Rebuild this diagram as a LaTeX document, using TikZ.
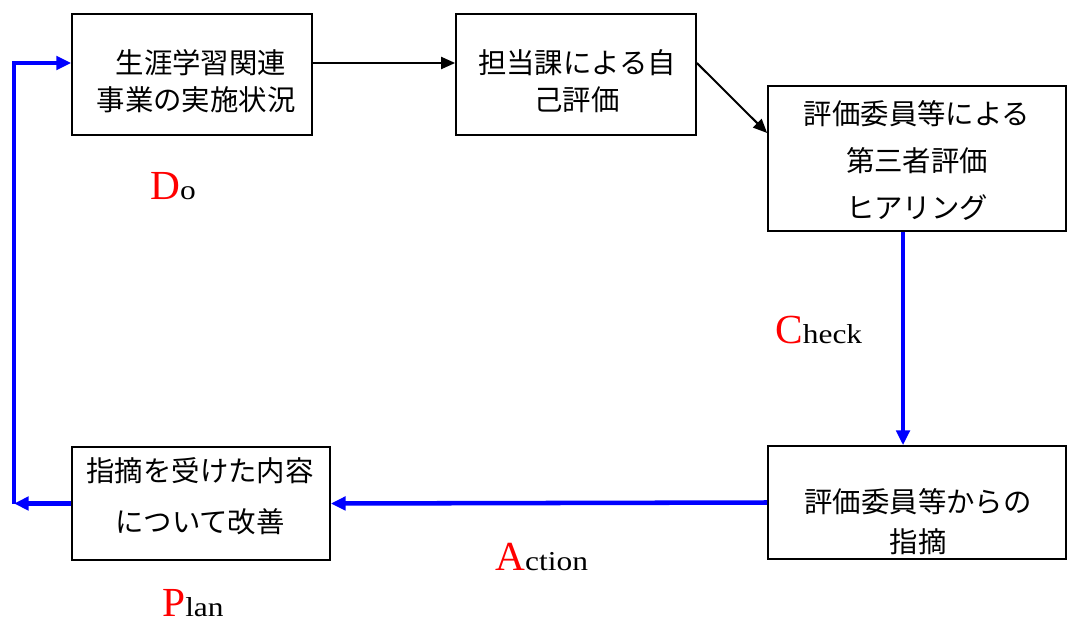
\documentclass[tikz,border=0pt]{standalone}
\usepackage{fontspec}
\setmainfont{Liberation Serif}
\newfontfamily\latw[FakeStretch=1.15]{Liberation Serif}
\newfontfamily\cjk{Noto Sans CJK JP}
\usetikzlibrary{arrows.meta}
\newcommand\redcap[1]{{\color{red}\fontsize{31}{31}\selectfont #1}}
\begin{document}
\begin{tikzpicture}[x=0.75pt,y=-0.75pt,
 box/.style={draw=black, line width=1.3pt, inner sep=0pt},
 txt/.style={inner sep=0pt, align=center, font=\cjk\fontsize{21.3}{#1}\selectfont},
 blk/.style={draw=black, line width=1.5pt, -{Triangle[length=10.5pt,width=9pt]}},
 blu/.style={draw=blue, line width=3.4pt, line join=miter, -{Triangle[length=11pt,width=10pt]}},
 lbl/.style={inner sep=0pt, anchor=base west, font=\latw\fontsize{20.5}{20.5}\selectfont}]
\useasboundingbox (0,0) rectangle (1069,621);
% boxes
\node[box, minimum width=240*0.75pt, minimum height=121*0.75pt] (do) at (192,74.5) {};
\node[box, minimum width=240*0.75pt, minimum height=121*0.75pt] (self) at (576,74.5) {};
\node[box, minimum width=298*0.75pt, minimum height=145*0.75pt] (third) at (917,158.5) {};
\node[box, minimum width=298*0.75pt, minimum height=113*0.75pt] (point) at (917,502.5) {};
\node[box, minimum width=258*0.75pt, minimum height=113*0.75pt] (plan) at (201,503.5) {};
% texts
\node[txt=27.75pt] (dot) at (196,81.5) {\hspace*{0.35em}生涯学習関連\\事業の実施状況};
\node[txt=27.75pt] (selft) at (577,81.5) {担当課による自\\己評価};
\node[txt=35.25pt] (thirdt) at (917,160.5) {評価委員等による\\第三者評価\\ヒアリング};
\node[txt=30pt] (pointt) at (918,522) {評価委員等からの\\指摘};
\node[txt=38.25pt] (plant) at (200,496.5) {指摘を受けた内容\\について改善};
% labels
\node[lbl] (dol) at (150,199) {\redcap{\rmfamily D}o};
\node[lbl] (checkl) at (775,343) {\redcap{\rmfamily C}heck};
\node[lbl] (actl) at (495,570) {\redcap{\rmfamily A}ction};
\node[lbl] (planl) at (162,616) {\redcap{\rmfamily P}lan};
% helper coordinates
\coordinate (r1) at (0,63);
\coordinate (r2) at (0,133);
\coordinate (cx) at (903,0);
\coordinate (c1) at (14,503.5);
% connectors
\draw[blk] (do.east |- r1) -- (self.west |- r1);
\draw[blk] (self.east |- r1) -- (third.west |- r2);
\draw[blu] (third.south -| cx) -- (point.north -| cx);
\draw[blu] (point.west) -- (plan.east);
\draw[blu] (plan.west) -- (c1);
\draw[blu] (c1) |- (do.west |- r1);
\end{tikzpicture}
\end{document}
